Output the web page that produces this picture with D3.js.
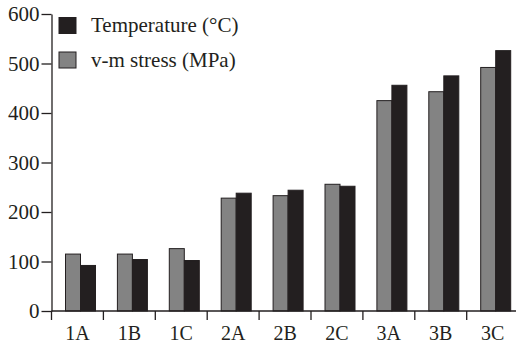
<!DOCTYPE html>
<html>
<head>
<meta charset="utf-8">
<script src="https://cdn.jsdelivr.net/npm/d3@7"></script>
<style>
  html, body { margin: 0; padding: 0; background: #fff; }
  svg { display: block; font-family: "Liberation Serif", "Times New Roman", serif; }
</style>
</head>
<body>
<svg id="chart"></svg>
<script>
const categories = ["1A", "1B", "1C", "2A", "2B", "2C", "3A", "3B", "3C"];
const stressValues = [115, 115, 126, 228, 233, 256, 425, 443, 492];
const temperatureValues = [92, 104, 102, 238, 244, 252, 456, 475, 526];
const yTicks = [0, 100, 200, 300, 400, 500, 600];
const seriesNames = ["v-m stress (MPa)", "Temperature (\u00b0C)"];

const width = 516;
const height = 345;
const ink = "#231f20";
const grey = "#838383";

const svg = d3.select("#chart").attr("width", width).attr("height", height);

const x0 = d3.scaleBand().domain(categories).range([51.5, 51.5 + 9 * 51.9]);
const x1 = d3.scaleBand().domain(["stress", "temp"]).range([14, 44]);
const y = d3.scaleLinear().domain([0, 600]).range([311, 14]);

const rows = categories.map((c, i) => ({
  cat: c,
  stress: stressValues[i],
  temp: temperatureValues[i]
}));

// bars
const groups = svg
  .selectAll("g.cat")
  .data(rows)
  .enter()
  .append("g")
  .attr("class", "cat")
  .attr("transform", (d) => `translate(${x0(d.cat)},0)`);

groups
  .selectAll("rect")
  .data((d) => [
    { key: "stress", value: d.stress },
    { key: "temp", value: d.temp }
  ])
  .enter()
  .append("rect")
  .attr("x", (d) => x1(d.key))
  .attr("y", (d) => y(d.value))
  .attr("width", x1.bandwidth())
  .attr("height", (d) => y(0) - y(d.value))
  .attr("fill", (d) => (d.key === "stress" ? grey : ink))
  .attr("stroke", ink)
  .attr("stroke-width", 1);

// y axis
const yAxis = svg
  .append("g")
  .attr("transform", "translate(51.5,0)")
  .call(d3.axisLeft(y).tickValues(yTicks).tickSize(10).tickSizeOuter(0).tickPadding(2));
yAxis.select(".domain").attr("stroke", ink).attr("stroke-width", 1.3);
yAxis.selectAll(".tick line").attr("stroke", ink).attr("stroke-width", 1.3);
yAxis
  .selectAll(".tick text")
  .attr("fill", ink)
  .style("font-size", "21px")
  .style("font-family", '"Liberation Serif", "Times New Roman", serif');

// x axis line and category boundary ticks
const xAxis = svg.append("g");
xAxis
  .append("line")
  .attr("x1", 51.5)
  .attr("x2", width)
  .attr("y1", y(0))
  .attr("y2", y(0))
  .attr("stroke", ink)
  .attr("stroke-width", 1.3);

xAxis
  .selectAll("line.bound")
  .data(categories)
  .enter()
  .append("line")
  .attr("class", "bound")
  .attr("x1", (d) => x0(d))
  .attr("x2", (d) => x0(d))
  .attr("y1", y(0))
  .attr("y2", y(0) + 9)
  .attr("stroke", ink)
  .attr("stroke-width", 1.3);

xAxis
  .selectAll("text")
  .data(categories)
  .enter()
  .append("text")
  .attr("x", (d) => x0(d) + x0.bandwidth() / 2)
  .attr("y", 340)
  .attr("text-anchor", "middle")
  .attr("fill", ink)
  .style("font-size", "20px")
  .text((d) => d);

// legend
const legendItems = [
  { label: seriesNames[1], color: ink },
  { label: seriesNames[0], color: grey }
];
const legend = svg
  .selectAll("g.legend")
  .data(legendItems)
  .enter()
  .append("g")
  .attr("class", "legend")
  .attr("transform", (d, i) => `translate(59,${17.5 + i * 34.5})`);

legend
  .append("rect")
  .attr("width", 17)
  .attr("height", 16)
  .attr("fill", (d) => d.color)
  .attr("stroke", ink)
  .attr("stroke-width", 1);

legend
  .append("text")
  .attr("x", 32)
  .attr("y", 14.5)
  .attr("fill", ink)
  .style("font-size", "21px")
  .text((d) => d.label);
</script>
</body>
</html>
